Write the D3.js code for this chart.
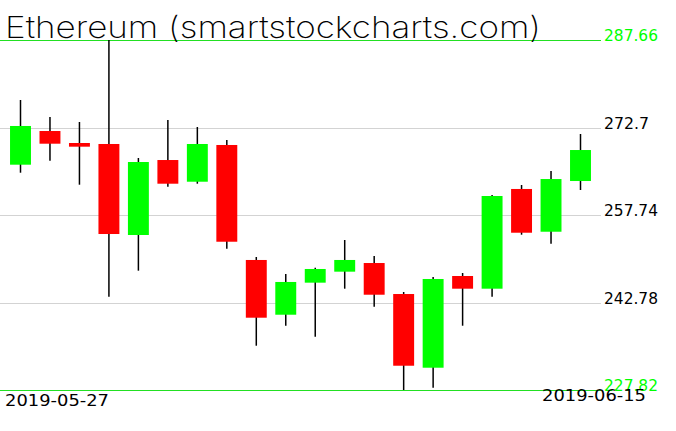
<!DOCTYPE html>
<html><head><meta charset="utf-8">
<script src="https://cdn.jsdelivr.net/npm/d3@7"></script>
<style>html,body{margin:0;padding:0;background:#fff;}svg{display:block;}</style>
</head><body>
<script>
const dates = ["2019-05-27","2019-05-28","2019-05-29","2019-05-30","2019-05-31","2019-06-01","2019-06-02","2019-06-03","2019-06-04","2019-06-05","2019-06-06","2019-06-07","2019-06-08","2019-06-09","2019-06-10","2019-06-11","2019-06-12","2019-06-13","2019-06-14","2019-06-15"];
const open  = [266.34,272.10,270.05,269.88,254.32,267.14,263.43,269.71,250.05,240.69,246.17,248.05,249.53,244.23,231.63,247.31,245.14,262.19,254.88,263.55];
const high  = [277.40,274.50,273.64,287.66,267.49,273.98,272.79,270.56,250.56,247.65,248.73,253.47,250.73,244.58,247.14,247.82,261.16,262.87,265.26,271.59];
const low   = [264.97,267.02,262.92,243.77,248.22,262.58,263.09,251.98,235.39,238.81,236.93,245.14,242.06,227.82,228.21,238.81,243.77,254.37,252.83,262.01];
const close = [272.96,269.93,269.42,254.49,266.80,263.09,269.88,253.17,240.18,246.29,248.51,250.05,244.11,231.97,246.80,245.14,260.99,254.71,263.89,268.85];
const yTicks = [287.66,272.7,257.74,242.78,227.82];
const title = "Ethereum (smartstockcharts.com)";

const W = 676, H = 431;
const svg = d3.select("body").append("svg").attr("width", W).attr("height", H);

const x = d3.scalePoint().domain(dates).range([20.5, 580.5]);
const y = d3.scaleLinear().domain([227.82, 287.66]).range([390, 40]);
const bw = x.step() * 0.71;

// grid lines
yTicks.forEach((t, i) => {
  const edge = (i === 0 || i === yTicks.length - 1);
  svg.append("line")
    .attr("x1", 0).attr("x2", 601)
    .attr("y1", Math.round(y(t)) + 0.5).attr("y2", Math.round(y(t)) + 0.5)
    .attr("stroke", edge ? "#22e022" : "#d3d3d3").attr("stroke-width", 1);
});

// candles
const data = dates.map((d, i) => ({d, o: open[i], h: high[i], l: low[i], c: close[i]}));
const g = svg.append("g");
g.selectAll("line.wick").data(data).enter().append("line")
  .attr("class", "wick")
  .attr("x1", d => x(d.d)).attr("x2", d => x(d.d))
  .attr("y1", d => y(d.h)).attr("y2", d => y(d.l))
  .attr("stroke", "#000").attr("stroke-width", 1.5);
g.selectAll("rect").data(data).enter().append("rect")
  .attr("x", d => x(d.d) - bw / 2)
  .attr("width", bw)
  .attr("y", d => y(Math.max(d.o, d.c)))
  .attr("height", d => Math.max(1, Math.abs(y(d.o) - y(d.c))))
  .attr("fill", d => d.c >= d.o ? "#00ff00" : "#ff0000");

// y labels
yTicks.forEach((t, i) => {
  const edge = (i === 0 || i === yTicks.length - 1);
  const txt = String(t);
  svg.append("text")
    .attr("x", 604).attr("y", y(t) + 1)
    .attr("font-family", "DejaVu Sans").attr("font-size", 15)
    .attr("textLength", txt.length * 9).attr("lengthAdjust", "spacingAndGlyphs")
    .attr("fill", edge ? "#00ff00" : "#000")
    .text(txt);
});

// title
svg.append("text")
  .attr("x", 5).attr("y", 37.5)
  .attr("font-family", "Inter, 'Open Sans', Lato, sans-serif").attr("font-weight", 200).attr("font-size", 30)
  .attr("textLength", 536).attr("lengthAdjust", "spacingAndGlyphs")
  .attr("fill", "#000").text(title);

// date labels
svg.append("text")
  .attr("x", 5).attr("y", 406)
  .attr("font-family", "DejaVu Sans").attr("font-size", 15)
  .attr("textLength", 104).attr("lengthAdjust", "spacingAndGlyphs")
  .attr("fill", "#000").text(dates[0]);
svg.append("text")
  .attr("x", 542).attr("y", 401)
  .attr("font-family", "DejaVu Sans").attr("font-size", 15)
  .attr("textLength", 104).attr("lengthAdjust", "spacingAndGlyphs")
  .attr("fill", "#000").text(dates[dates.length - 1]);
</script>
</body></html>
